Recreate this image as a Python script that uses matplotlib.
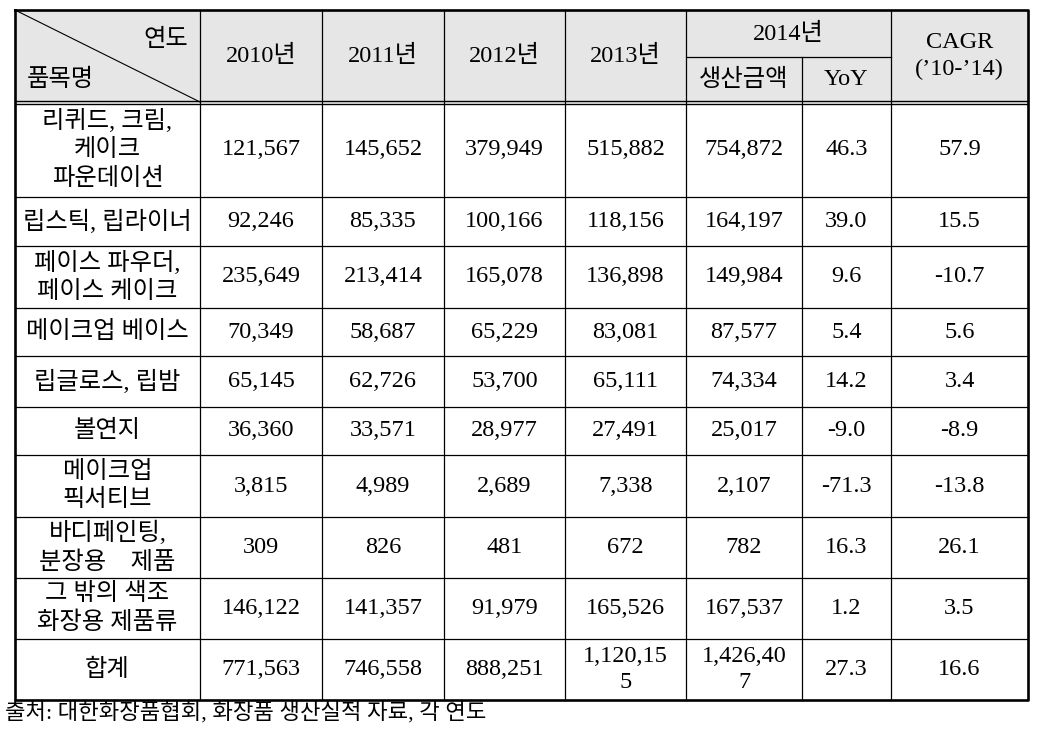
import matplotlib.pyplot as plt

plt.rcParams['font.family'] = ['Liberation Serif', 'Noto Sans CJK KR']

items = ["리퀴드, 크림,\n케이크\n파운데이션", "립스틱, 립라이너", "페이스 파우더,\n페이스 케이크",
         "메이크업 베이스", "립글로스, 립밤", "볼연지", "메이크업\n픽서티브",
         "바디페인팅,\n분장용    제품", "그 밖의 색조\n화장용 제품류", "합계"]
y2010 = [121567, 92246, 235649, 70349, 65145, 36360, 3815, 309, 146122, 771563]
y2011 = [145652, 85335, 213414, 58687, 62726, 33571, 4989, 826, 141357, 746558]
y2012 = [379949, 100166, 165078, 65229, 53700, 28977, 2689, 481, 91979, 888251]
y2013 = [515882, 118156, 136898, 83081, 65111, 27491, 7338, 672, 165526, 1120155]
y2014 = [754872, 164197, 149984, 87577, 74334, 25017, 2107, 782, 167537, 1426407]
yoy = [46.3, 39.0, 9.6, 5.4, 14.2, -9.0, -71.3, 16.3, 1.2, 27.3]
cagr = [57.9, 15.5, -10.7, 5.6, 3.4, -8.9, -13.8, 26.1, 3.5, 16.6]
year_labels = ["2010년", "2011년", "2012년", "2013년"]
source = "출처: 대한화장품협회, 화장품 생산실적 자료, 각 연도"

# layout in pixels
xs = [15, 200, 322, 444, 565, 686, 802, 891, 1028]
ys = [102, 197, 246, 308, 356, 407, 455, 517, 578, 639, 700]
top, mid = 10, 57

fig = plt.figure(figsize=(10.5, 7.38), dpi=100)
ax = fig.add_axes([0, 0, 1, 1])
ax.set_xlim(0, 1050)
ax.set_ylim(738, 0)
ax.axis('off')

fs = 17.5
ls = 1.35


def fmt(v):
    s = f"{v:,}"
    if len(s) > 8:
        s = s[:8] + "\n" + s[8:]
    return s


def cx(i):
    return (xs[i] + xs[i + 1]) / 2


# header background
ax.fill_between([xs[0], xs[-1]], top, ys[0], color='#e6e6e6', zorder=0)

# grid lines
for x in xs[1:-1]:
    y0 = mid if x == xs[6] else top
    ax.plot([x, x], [y0, ys[-1]], color='black', lw=0.9)
for y in ys[1:-1]:
    ax.plot([xs[0], xs[-1]], [y, y], color='black', lw=0.9)
ax.plot([xs[5], xs[7]], [mid, mid], color='black', lw=0.9)
# double line under header
ax.plot([xs[0], xs[-1]], [ys[0] - 1.5, ys[0] - 1.5], color='black', lw=1.0)
ax.plot([xs[0], xs[-1]], [ys[0] + 1.5, ys[0] + 1.5], color='black', lw=1.0)
# outer border
ax.plot([xs[0], xs[-1], xs[-1], xs[0], xs[0]], [top, top, ys[-1], ys[-1], top],
        color='black', lw=1.9)
# diagonal
ax.plot([xs[0], xs[1]], [top, ys[0]], color='black', lw=0.8)

# header text
ax.text(xs[1] - 12, 40, "연도", ha='right', va='center', fontsize=fs)
ax.text(xs[0] + 12, 80, "품목명", ha='left', va='center', fontsize=fs)
for i, lab in enumerate(year_labels):
    ax.text(cx(i + 1), (top + ys[0]) / 2, lab, ha='center', va='center', fontsize=fs)
ax.text((xs[5] + xs[7]) / 2, (top + mid) / 2, "2014년", ha='center', va='center', fontsize=fs)
ax.text(cx(5), (mid + ys[0]) / 2, "생산금액", ha='center', va='center', fontsize=fs)
ax.text(cx(6), (mid + ys[0]) / 2, "YoY", ha='center', va='center', fontsize=fs)
ax.text(cx(7), (top + ys[0]) / 2, "CAGR\n(’10-’14)", ha='center', va='center',
        fontsize=fs, linespacing=ls)

# body
for r in range(len(items)):
    yc = (ys[r] + ys[r + 1]) / 2
    row = [items[r], fmt(y2010[r]), fmt(y2011[r]), fmt(y2012[r]), fmt(y2013[r]),
           fmt(y2014[r]), f"{yoy[r]:.1f}", f"{cagr[r]:.1f}"]
    for c, txt in enumerate(row):
        ax.text(cx(c), yc, txt, ha='center', va='center', fontsize=fs, linespacing=ls)

ax.text(5, 713, source, ha='left', va='center', fontsize=16)

fig.savefig("out.png", dpi=100)
